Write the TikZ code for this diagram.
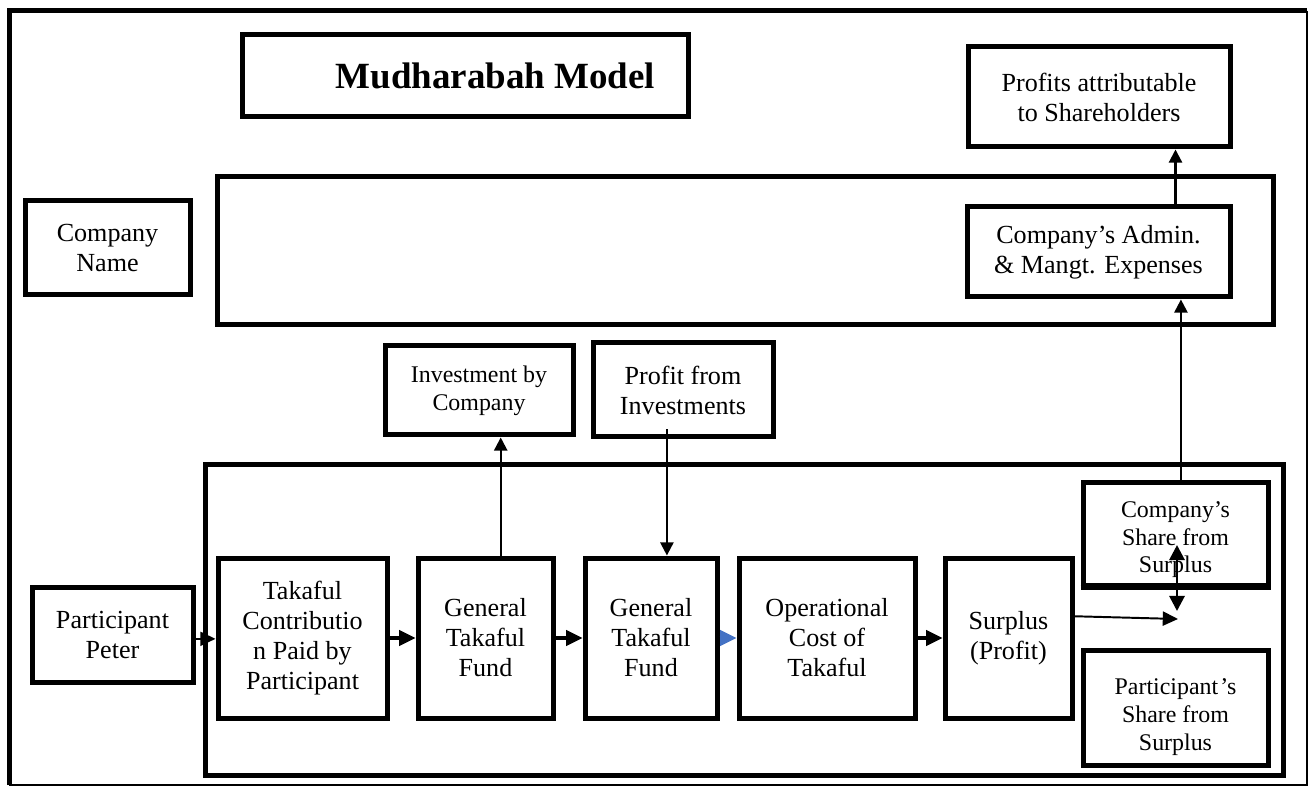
\documentclass[tikz,border=0pt]{standalone}
\usepackage{fontspec}
\setmainfont{Liberation Serif}
\usetikzlibrary{arrows.meta}
\def\pxu{0.46pt}
\definecolor{wordblue}{RGB}{68,114,196}
\begin{document}
\begin{tikzpicture}[x=0.46pt,y=-0.46pt,
  box/.style={draw=black,line width=2.3pt,fill=white,inner sep=0pt,align=center,
    font=\fontsize{12}{13.8}\selectfont},
  smallbox/.style={box,font=\fontsize{11}{12.8}\selectfont},
  frame/.style={draw=black,line width=2.3pt,inner sep=0pt},
  arr/.style={line width=1.4pt,-{Triangle[length=7.5pt,width=7pt]}},
  varr/.style={line width=1pt,-{Triangle[length=6pt,width=6pt]}}]
\useasboundingbox (0,0) rectangle (1314,787);
% outer frame
\draw[line width=2.3pt] (9,785) -- (9,11) -- (1307,11);
\draw[line width=1pt] (1307,11) -- (1307,785) -- (9,785);
% big containers
\node[frame,minimum width=1056*\pxu,minimum height=148*\pxu] (upper) at (745,251) {};
\node[frame,minimum width=1078*\pxu,minimum height=310*\pxu] (lower) at (744,620) {};
% title and side boxes
\node[box,minimum width=446*\pxu,minimum height=82*\pxu,font=\fontsize{17}{20}\selectfont\bfseries] (title) at (465,76) {\hspace*{28pt}Mudharabah Model};
\node[box,minimum width=165*\pxu,minimum height=94*\pxu] (cname) at (107.5,248) {Company\\Name};
\node[box,minimum width=262*\pxu,minimum height=100*\pxu] (profits) at (1099,97) {Profits attributable\\to Shareholders};
\node[box,minimum width=263*\pxu,minimum height=90*\pxu] (admin) at (1098.5,252) {Company’s Admin.\\\& Mangt. Expenses};
\node[smallbox,minimum width=188*\pxu,minimum height=89*\pxu] (inv) at (479,390.5) {Investment by\\Company};
\node[box,minimum width=180*\pxu,minimum height=94*\pxu] (pfi) at (683,390) {Profit from\\Investments};
\node[box,minimum width=161*\pxu,minimum height=95*\pxu] (peter) at (112.5,634.5) {Participant\\Peter};
% chain
\node[box,minimum width=169*\pxu,minimum height=160*\pxu] (tcp) at (302.5,638) {Takaful\\Contributio\\n Paid by\\Participant};
\node[box,minimum width=135*\pxu,minimum height=160*\pxu] (gtf1) at (485.5,638) {General\\Takaful\\Fund};
\node[box,minimum width=132*\pxu,minimum height=160*\pxu] (gtf2) at (651,638) {General\\Takaful\\Fund};
\node[box,minimum width=176*\pxu,minimum height=160*\pxu] (opc) at (827,638) {Operational\\Cost of\\Takaful};
\node[box,minimum width=127*\pxu,minimum height=160*\pxu] (sur) at (1008.5,638) {Surplus\\(Profit)};
\node[smallbox,minimum width=185*\pxu,minimum height=103*\pxu] (css) at (1175.5,533.5) {\raisebox{-5.5pt}[0pt][0pt]{\begin{tabular}{@{}c@{}}Company’s\\Share from\\Surplus\end{tabular}}};
\node[smallbox,minimum width=185*\pxu,minimum height=115*\pxu] (pss) at (1175.5,707.5) {\raisebox{-7pt}[0pt][0pt]{\begin{tabular}{@{}c@{}}Participant\kern1pt’s\\Share from\\Surplus\end{tabular}}};
% bottom border of css drawn over its overflowing text
\draw[line width=2.3pt] (css.south west) -- (css.south east);
% connectors
\draw[line width=0.8pt,-{Triangle[length=7pt,width=6.5pt]}] ([yshift=-2pt]peter.east) -- ([yshift=-2pt]peter.east -| tcp.west);
\draw[arr] (tcp) -- (gtf1);
\draw[arr] (gtf1) -- (gtf2);
\draw[line width=1.4pt,wordblue,-{Triangle[length=7.5pt,width=7pt]}] (gtf2.east) -- (opc.west);
\draw[arr] (opc) -- (sur);
\draw[varr] ([xshift=7pt]gtf1.north) -- ([xshift=7pt]gtf1.north |- inv.south);
\draw[varr] ([xshift=-7.4pt,yshift=4.6pt]pfi.south) -- ([xshift=-7.4pt]pfi.south |- gtf2.north);
\draw[varr] ([xshift=2.5pt]css.north) -- ([xshift=2.5pt]css.north |- admin.south);
\draw[varr] (css.north |- admin.north) -- (css.north |- profits.south);
\coordinate (split) at (1178,619);
\coordinate (dtop) at (1177,545);
\coordinate (dbot) at (1177,611);
\draw[line width=0.9pt,-{Triangle[length=7pt,width=6.5pt]}] ([yshift=10pt]sur.east) -- (split);
\draw[line width=1.3pt,{Triangle[length=7pt,width=7pt]}-{Triangle[length=7pt,width=7pt]}] (dbot) -- (dtop);
\end{tikzpicture}
\end{document}
